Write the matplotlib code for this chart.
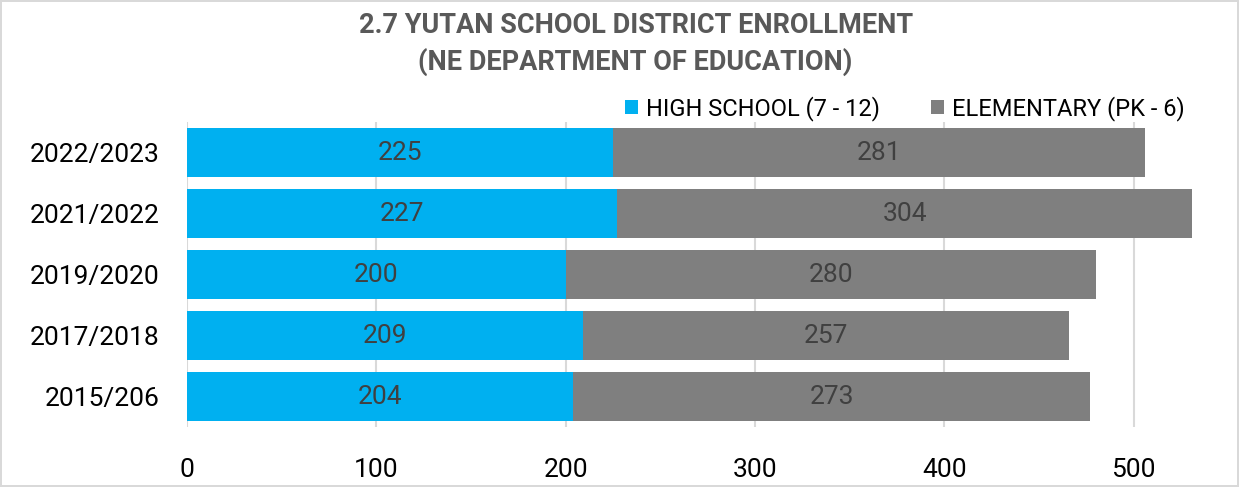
import matplotlib.pyplot as plt

plt.rcParams['font.family'] = ['Roboto', 'DejaVu Sans']

# Datos
anios = ['2015/206', '2017/2018', '2019/2020', '2021/2022', '2022/2023']
high_school = [204, 209, 200, 227, 225]
elementary = [273, 257, 280, 304, 281]

azul = '#00B0F0'
gris = '#7F7F7F'

fig = plt.figure(figsize=(12.39, 4.87), dpi=100)
fig.patch.set_edgecolor('#D9D9D9')
fig.patch.set_linewidth(1.5)
ax = fig.add_axes([0.151, 0.123, 0.842, 0.626])

b1 = ax.barh(anios, high_school, height=0.8, color=azul, label='HIGH SCHOOL (7 - 12)', zorder=3)
b2 = ax.barh(anios, elementary, left=high_school, height=0.8, color=gris,
             label='ELEMENTARY (PK - 6)', zorder=3)

# Etiquetas de valores
ax.bar_label(b1, label_type='center', fontsize=19, color='#404040')
ax.bar_label(b2, label_type='center', fontsize=19, color='#404040')

ax.set_xlim(0, 551)
ax.set_ylim(-0.5, 4.5)
ax.set_xticks([0, 100, 200, 300, 400, 500])
ax.tick_params(axis='x', length=0, labelsize=19, pad=22, colors='black')
ax.tick_params(axis='y', length=0, labelsize=19, pad=20, colors='black')
ax.grid(axis='x', color='#D9D9D9', linewidth=1.5, zorder=0)
for s in ax.spines.values():
    s.set_visible(False)

fig.text(0.513, 0.975, '2.7 YUTAN SCHOOL DISTRICT ENROLLMENT\n(NE DEPARTMENT OF EDUCATION)',
         ha='center', va='top', fontsize=19.5, fontweight='bold', color='#595959',
         linespacing=1.4)

fig.legend(loc='center right', bbox_to_anchor=(0.973, 0.778), ncol=2, frameon=False,
           fontsize=17, handlelength=0.55, handleheight=0.55, handletextpad=0.3,
           columnspacing=2.2)

plt.savefig('out.png', dpi=100)
